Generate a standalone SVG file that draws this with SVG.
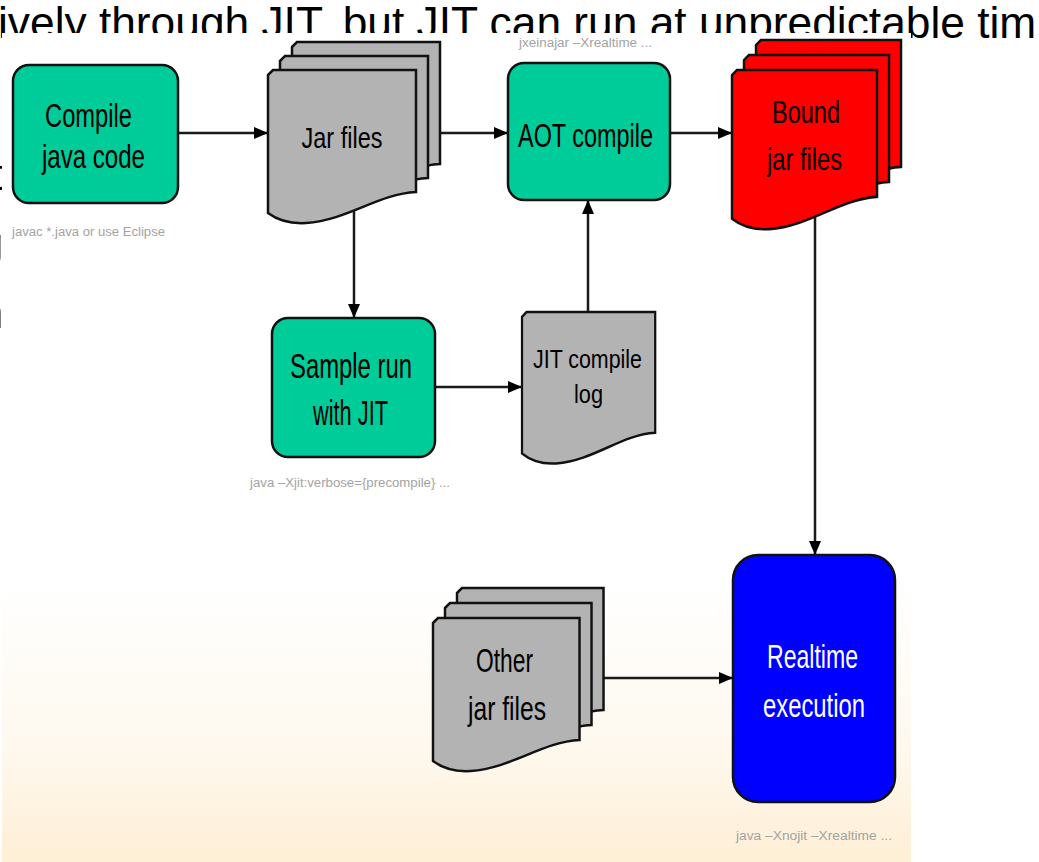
<svg xmlns="http://www.w3.org/2000/svg" width="1039" height="862" viewBox="0 0 1039 862">
<style>
.bg-text{font-family:"Liberation Sans",Arial,sans-serif;font-size:44.3px;fill:#000}
.lbl{font-family:"Liberation Sans",Arial,sans-serif;fill:#000;text-anchor:middle}
.wlbl{font-family:"Liberation Sans",Arial,sans-serif;fill:#fff;text-anchor:middle}
.note{font-family:"Liberation Sans",Arial,sans-serif;font-size:12px;fill:#a3a3a3}
.box{stroke:#111;stroke-width:2.5}
.green{fill:#00CC99}
.gray{fill:#B3B3B3}
.red{fill:#FF0000}
.blue{fill:#0000FF}
.conn{fill:none;stroke:#1a1a1a;stroke-width:2.5}
</style>
<defs>
<linearGradient id="bgGrad" x1="0" y1="0" x2="0" y2="1">
<stop offset="0" stop-color="#ffffff"/>
<stop offset="0.66" stop-color="#ffffff"/>
<stop offset="0.85" stop-color="#FEF9F0"/>
<stop offset="1" stop-color="#FEEFD6"/>
</linearGradient>
<filter id="flat" x="-50%" y="-10%" width="200%" height="120%">
<feColorMatrix type="identity"/>
</filter>
<path id="doc" d="M0,5 L5,0 H148 V122 C110,124 80,150 38,153 C20,154 8,149 0,143 Z"/>
<marker id="arrow" markerUnits="userSpaceOnUse" markerWidth="14" markerHeight="12" refX="14" refY="6" orient="auto">
<path d="M0,0 L14,6 L0,12 Z" fill="#000"/>
</marker>
</defs>

<!-- slide text behind the picture -->
<text class="bg-text" x="-2" y="38">ively through JIT, but JIT can run at unpredictable tim</text>
<g filter="url(#flat)">
<text class="bg-text" x="3.5" y="190" text-anchor="end">t</text>
<text class="bg-text" x="3.5" y="259" text-anchor="end">g</text>
<text class="bg-text" x="3.5" y="328" text-anchor="end">n</text>
</g>

<!-- picture background -->
<rect x="2" y="33" width="909" height="829" fill="url(#bgGrad)"/>

<g id="connectors">
<path class="conn" d="M178,133 H268" marker-end="url(#arrow)"/>
<path class="conn" d="M441,133 H508" marker-end="url(#arrow)"/>
<path class="conn" d="M670,133 H732" marker-end="url(#arrow)"/>
<path class="conn" d="M354,205 V318" marker-end="url(#arrow)"/>
<path class="conn" d="M435,387 H522" marker-end="url(#arrow)"/>
<path class="conn" d="M588,312 V200" marker-end="url(#arrow)"/>
<path class="conn" d="M815,210 V555" marker-end="url(#arrow)"/>
<path class="conn" d="M604,678 H733" marker-end="url(#arrow)"/>
</g>

<g id="compile">
<rect class="box green" x="13" y="65" width="165" height="138" rx="16"/>
<text class="lbl" x="88.5" y="127" font-size="34" textLength="87" lengthAdjust="spacingAndGlyphs">Compile</text>
<text class="lbl" x="93.5" y="168" font-size="34" textLength="103" lengthAdjust="spacingAndGlyphs">java code</text>
<text class="note" x="12" y="236" textLength="153" lengthAdjust="spacingAndGlyphs">javac *.java or  use Eclipse</text>
</g>

<g id="jarfiles">
<use href="#doc" class="box gray" transform="translate(292,42)"/>
<use href="#doc" class="box gray" transform="translate(280,56)"/>
<use href="#doc" class="box gray" transform="translate(268,70)"/>
<text class="lbl" x="342" y="148" font-size="30" textLength="81" lengthAdjust="spacingAndGlyphs">Jar files</text>
</g>

<g id="aot">
<rect class="box green" x="508" y="63" width="162" height="137" rx="16"/>
<text class="lbl" x="585.5" y="147" font-size="34" textLength="135" lengthAdjust="spacingAndGlyphs">AOT compile</text>
<text class="note" x="519" y="47" textLength="133" lengthAdjust="spacingAndGlyphs">jxeinajar –Xrealtime ...</text>
</g>

<g id="bound">
<use href="#doc" class="box red" transform="translate(756,40) scale(0.98,1.04)"/>
<use href="#doc" class="box red" transform="translate(744,55) scale(0.98,1.04)"/>
<use href="#doc" class="box red" transform="translate(732,70) scale(0.98,1.04)"/>
<text class="lbl" x="806" y="123" font-size="32" textLength="68" lengthAdjust="spacingAndGlyphs">Bound</text>
<text class="lbl" x="804.5" y="170" font-size="32" textLength="75" lengthAdjust="spacingAndGlyphs">jar files</text>
</g>

<g id="samplerun">
<rect class="box green" x="272" y="318" width="163" height="139" rx="16"/>
<text class="lbl" x="351" y="378" font-size="35" textLength="122" lengthAdjust="spacingAndGlyphs">Sample run</text>
<text class="lbl" x="350.5" y="425" font-size="35" textLength="75" lengthAdjust="spacingAndGlyphs">with JIT</text>
<text class="note" x="250" y="487" textLength="200" lengthAdjust="spacingAndGlyphs">java –Xjit:verbose={precompile} ...</text>
</g>

<g id="jitlog">
<use href="#doc" class="box gray" transform="translate(522,312) scale(0.9,0.99)"/>
<text class="lbl" x="587.5" y="368" font-size="26" textLength="109" lengthAdjust="spacingAndGlyphs">JIT compile</text>
<text class="lbl" x="588.5" y="403" font-size="26" textLength="29" lengthAdjust="spacingAndGlyphs">log</text>
</g>

<g id="otherjars">
<use href="#doc" class="box gray" transform="translate(457,588) scale(0.99,1)"/>
<use href="#doc" class="box gray" transform="translate(445,603) scale(0.99,1)"/>
<use href="#doc" class="box gray" transform="translate(433,618) scale(0.99,1)"/>
<text class="lbl" x="504.5" y="672" font-size="33" textLength="57" lengthAdjust="spacingAndGlyphs">Other</text>
<text class="lbl" x="507" y="720" font-size="33" textLength="78" lengthAdjust="spacingAndGlyphs">jar files</text>
</g>

<g id="realtime">
<rect class="box blue" x="733" y="555" width="162" height="247" rx="25"/>
<text class="wlbl" x="812.5" y="668" font-size="34" textLength="91" lengthAdjust="spacingAndGlyphs">Realtime</text>
<text class="wlbl" x="814" y="717" font-size="34" textLength="102" lengthAdjust="spacingAndGlyphs">execution</text>
<text class="note" x="736" y="840" textLength="156" lengthAdjust="spacingAndGlyphs">java –Xnojit –Xrealtime ...</text>
</g>
</svg>
